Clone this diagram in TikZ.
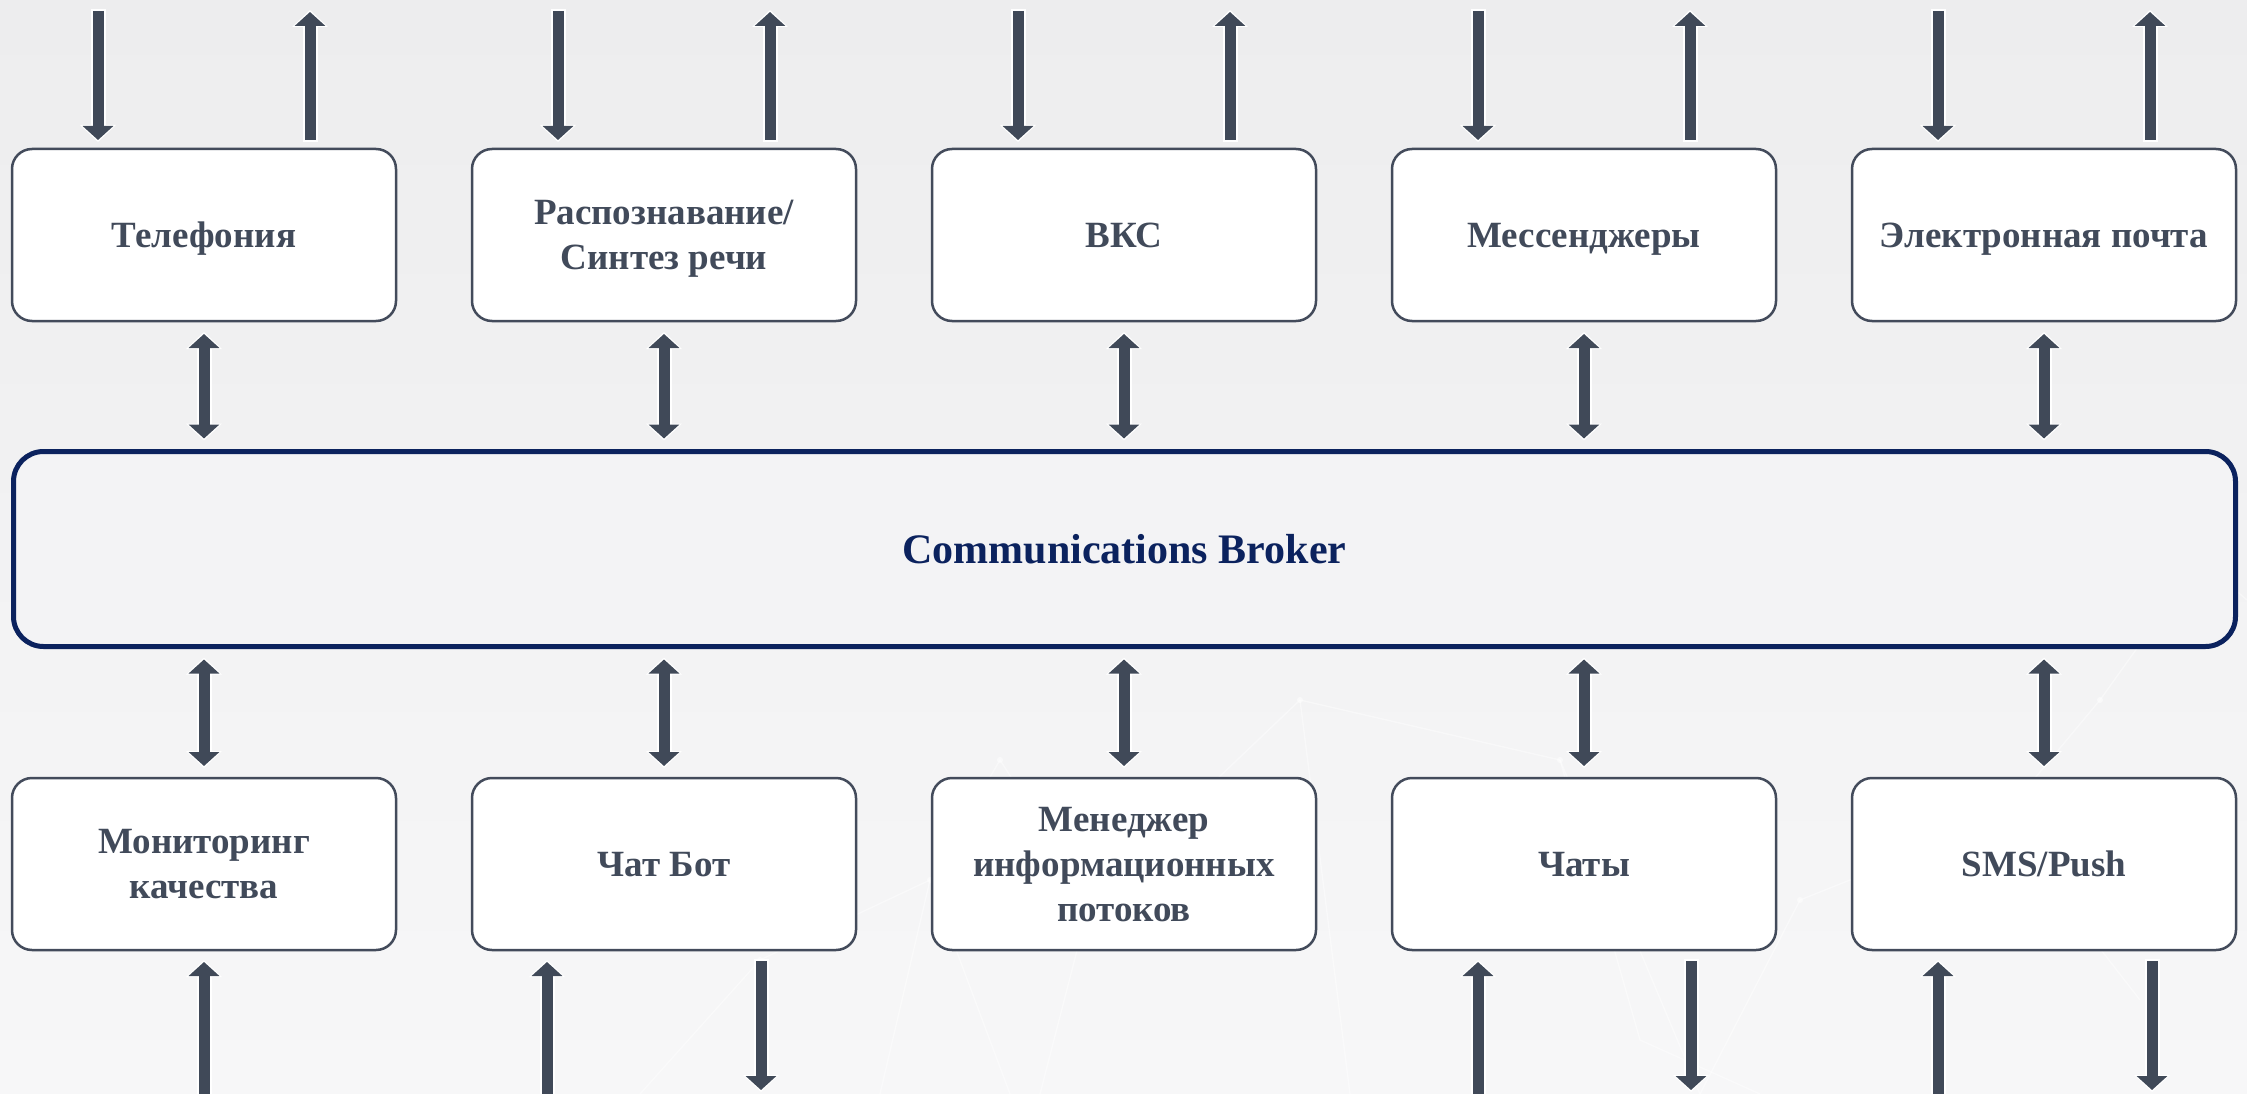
\documentclass[tikz,border=0pt]{standalone}
\usepackage{fontspec}
\setmainfont{Liberation Serif}
\usetikzlibrary{arrows.meta,calc}
\definecolor{bgtop}{HTML}{EDEDEE}
\definecolor{bgbot}{HTML}{F7F7F8}
\definecolor{boxline}{HTML}{434B5B}
\definecolor{boxtext}{HTML}{414A5A}
\definecolor{arrowc}{HTML}{404958}
\definecolor{navy}{HTML}{0B225E}
\definecolor{brokerfill}{HTML}{F3F3F5}
\newcommand\conn[3]{%
  \draw[halo,#1] (#2) -- (#3);
  \draw[flow,#1] (#2) -- (#3);}
\begin{document}
\begin{tikzpicture}[x=1pt,y=-1pt,
  unit/.style={draw=boxline, line width=2.5pt, fill=white, rounded corners=20pt,
    minimum width=384pt, minimum height=172pt, inner sep=0pt, outer sep=0pt,
    align=center, text depth=0pt, text=boxtext, font=\fontsize{37}{45}\selectfont\bfseries},
  broker/.style={draw=navy, line width=5pt, fill=brokerfill, rounded corners=30pt,
    minimum width=2222pt, minimum height=195pt, inner sep=0pt, outer sep=0pt,
    text=navy, font=\fontsize{42}{50}\selectfont\bfseries},
  halo/.style={draw=white, line width=15pt, >={Triangle[width=35pt,length=17pt]}},
  flow/.style={draw=arrowc, line width=11pt, >={Triangle[width=30pt,length=14pt]},
    shorten >=2pt, shorten <=2pt},
  netline/.style={draw=white, opacity=0.45, line width=1.3pt}
]
% background
\useasboundingbox (0,0) rectangle (2247,1094);
\shade[top color=bgtop, bottom color=bgbot] (0,0) rectangle (2247,1094);
% faint network pattern
\draw[netline] (880,1094) -- (930,880) -- (1010,1094);
\draw[netline] (930,880) -- (1000,760) -- (1090,900) -- (1040,1094);
\draw[netline] (1090,900) -- (1300,700) -- (1560,760) -- (1700,1094);
\draw[netline] (1300,700) -- (1350,1094);
\draw[netline] (1560,760) -- (1640,1040) -- (1760,1094);
\draw[netline] (1700,1094) -- (1800,900) -- (2000,820) -- (2100,700);
\draw[netline] (2000,820) -- (2140,1000);
\draw[netline] (2100,700) -- (2200,560) -- (2247,600);
\draw[netline] (640,1094) -- (760,960) -- (930,880);
\foreach \p in {(930,880),(1000,760),(1090,900),(1300,700),(1560,760),(1800,900),(2000,820),(2100,700),(760,960)}
  \fill[white, opacity=0.5] \p circle (3pt);

% top row
\node[unit] (t1) at (204,235) {Телефония};
\node[unit] (t2) at (664,235) {Распознавание/\\Синтез речи};
\node[unit] (t3) at (1124,235) {ВКС};
\node[unit] (t4) at (1584,235) {Мессенджеры};
\node[unit] (t5) at (2044,235) {Электронная почта};
% broker
\node[broker] (br) at (1124.5,549) {Communications Broker};
% bottom row
\node[unit] (b1) at (204,864) {Мониторинг\\качества};
\node[unit] (b2) at (664,864) {Чат Бот};
\node[unit] (b3) at (1124,864) {Менеджер\\информационных\\потоков};
\node[unit] (b4) at (1584,864) {Чаты};
\node[unit] (b5) at (2044,864) {SMS/Push};

% top external arrows and links to the broker
\foreach \i in {1,...,5}{
  \coordinate (tin\i) at ($(t\i.north)+(-106,-140)$);
  \coordinate (tinE\i) at ($(t\i.north)+(-106,-7)$);
  \coordinate (tout\i) at ($(t\i.north)+(106,-7)$);
  \coordinate (toutE\i) at ($(t\i.north)+(106,-139)$);
  \conn{->}{tin\i}{tinE\i}
  \conn{->}{tout\i}{toutE\i}
  \coordinate (ua\i) at ($(t\i.south)+(0,11)$);
  \coordinate (ub\i) at ($(t\i.south |- br.north)+(0,-11)$);
  \conn{<->}{ua\i}{ub\i}
  \coordinate (la\i) at ($(b\i.north |- br.south)+(0,11)$);
  \coordinate (lb\i) at ($(b\i.north)+(0,-10)$);
  \conn{<->}{la\i}{lb\i}
}

% bottom external arrows
\coordinate (b1up) at ($(b1.south)+(0,160)$);
\coordinate (b1upE) at ($(b1.south)+(0,10)$);
\conn{->}{b1up}{b1upE}

\coordinate (b2up) at ($(b2.south)+(-117,160)$);
\coordinate (b2upE) at ($(b2.south)+(-117,10)$);
\conn{->}{b2up}{b2upE}
\coordinate (b2dn) at ($(b2.south)+(97,9)$);
\coordinate (b2dnE) at ($(b2.south)+(97,142)$);
\conn{->}{b2dn}{b2dnE}

\coordinate (b4up) at ($(b4.south)+(-106,160)$);
\coordinate (b4upE) at ($(b4.south)+(-106,10)$);
\conn{->}{b4up}{b4upE}
\coordinate (b4dn) at ($(b4.south)+(107,9)$);
\coordinate (b4dnE) at ($(b4.south)+(107,142)$);
\conn{->}{b4dn}{b4dnE}

\coordinate (b5up) at ($(b5.south)+(-106,160)$);
\coordinate (b5upE) at ($(b5.south)+(-106,10)$);
\conn{->}{b5up}{b5upE}
\coordinate (b5dn) at ($(b5.south)+(108,9)$);
\coordinate (b5dnE) at ($(b5.south)+(108,142)$);
\conn{->}{b5dn}{b5dnE}
\end{tikzpicture}
\end{document}
